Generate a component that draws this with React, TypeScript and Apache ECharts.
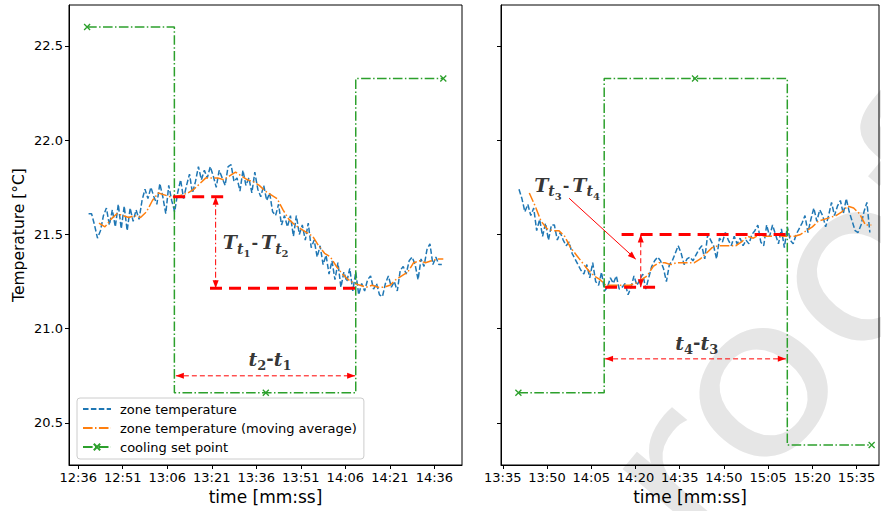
import React, { useEffect, useRef } from "react";
import * as echarts from "echarts";

// ---------- tick values (minutes since midnight) ----------
const leftTicks = [756, 771, 786, 801, 816, 831, 846, 861, 876];
const rightTicks = [815, 830, 845, 860, 875, 890, 905, 920, 935];
const yTicks = [20.5, 21.0, 21.5, 22.0, 22.5];

// ---------- left panel ----------
const leftZoneStart = 759.5; // minutes, 1-min step
const leftZone = [
  21.61, 21.61, 21.55, 21.48, 21.52, 21.6, 21.64, 21.55, 21.63, 21.54,
  21.66, 21.53, 21.65, 21.52, 21.64, 21.57, 21.63, 21.58, 21.68, 21.74,
  21.69, 21.75, 21.7, 21.66, 21.77, 21.7, 21.61, 21.76, 21.68, 21.62,
  21.72, 21.79, 21.69, 21.76, 21.82, 21.72, 21.78, 21.86, 21.79, 21.84,
  21.8, 21.86, 21.81, 21.75, 21.84, 21.8, 21.76, 21.86, 21.87, 21.78,
  21.8, 21.73, 21.84, 21.76, 21.8, 21.72, 21.83, 21.74, 21.7, 21.76,
  21.68, 21.72, 21.62, 21.6, 21.66, 21.55, 21.6, 21.54, 21.6, 21.49,
  21.6, 21.5, 21.55, 21.47, 21.56, 21.43, 21.47, 21.38, 21.44, 21.34,
  21.39, 21.29, 21.36, 21.26, 21.35, 21.22, 21.3, 21.25, 21.32, 21.2,
  21.3, 21.18, 21.24, 21.2, 21.26, 21.28, 21.21, 21.24, 21.18, 21.17,
  21.24, 21.28, 21.22, 21.25, 21.2, 21.31, 21.33, 21.29, 21.36, 21.38,
  21.34, 21.26, 21.37, 21.33, 21.42, 21.45, 21.34, 21.38, 21.34, 21.34,
];
const leftAvgStart = 763; // 2-min step
const leftAvg = [
  21.56, 21.54, 21.58, 21.61, 21.6, 21.59, 21.6, 21.59, 21.62, 21.68,
  21.72, 21.71, 21.7, 21.7, 21.71, 21.72, 21.74, 21.77, 21.8, 21.8,
  21.8, 21.79, 21.81, 21.83, 21.81, 21.79, 21.78, 21.76, 21.73, 21.71,
  21.69, 21.63, 21.58, 21.55, 21.53, 21.51, 21.49, 21.44, 21.4, 21.38,
  21.33, 21.29, 21.26, 21.24, 21.23, 21.22, 21.23, 21.22, 21.22, 21.23,
  21.26, 21.28, 21.3, 21.35, 21.36, 21.35, 21.36, 21.37, 21.37,
];
const leftSetTimes = [759, 788.4, 788.4, 819.2, 849.5, 849.5, 879];
const leftSetTemps = [22.6, 22.6, 20.66, 20.66, 20.66, 22.327, 22.327];
const leftSetMarked = [1, 0, 0, 1, 0, 0, 1];

// annotations (left)
const leftUpperTimes = [788, 806.5];
const leftUpperTemp = 21.7;
const leftLowerTimes = [800.4, 849.3];
const leftLowerTemp = 21.215;
const leftVArrowTime = 802.3;
const leftHArrowTimes = [788.9, 849.3];
const leftHArrowTemp = 20.75;
const leftTLabelPos = [815.8, 21.44];
const leftDtLabelPos = [820.6, 20.83];

// ---------- right panel ----------
const rightZoneStart = 820.5;
const rightZone = [
  21.74, 21.69, 21.62, 21.66, 21.6, 21.64, 21.52, 21.58, 21.49, 21.56,
  21.47, 21.55, 21.55, 21.47, 21.51, 21.47, 21.44, 21.46, 21.4, 21.37,
  21.34, 21.31, 21.29, 21.34, 21.27, 21.35, 21.25, 21.23, 21.3, 21.2,
  21.22, 21.27, 21.24, 21.28, 21.21, 21.22, 21.24, 21.18, 21.22, 21.28,
  21.23, 21.26, 21.29, 21.21, 21.27, 21.33, 21.36, 21.38, 21.36, 21.32,
  21.25, 21.34, 21.36, 21.4, 21.44, 21.4, 21.34, 21.37, 21.38, 21.36,
  21.39, 21.42, 21.44, 21.37, 21.5, 21.47, 21.44, 21.37, 21.48, 21.46,
  21.51, 21.47, 21.44, 21.49, 21.45, 21.48, 21.44, 21.47, 21.45, 21.5,
  21.52, 21.55, 21.46, 21.44, 21.55, 21.49, 21.55, 21.5, 21.45, 21.53,
  21.43, 21.54, 21.47, 21.45, 21.5, 21.53, 21.56, 21.6, 21.51, 21.58,
  21.64, 21.57, 21.63, 21.6, 21.54, 21.6, 21.67, 21.6, 21.65, 21.68,
  21.61, 21.69, 21.62, 21.57, 21.52, 21.51, 21.55, 21.62, 21.67, 21.51,
];
const rightAvgStart = 824;
const rightAvg = [
  21.72, 21.65, 21.57, 21.53, 21.52, 21.52, 21.49, 21.43, 21.39, 21.35,
  21.31, 21.28, 21.26, 21.23, 21.23, 21.23, 21.23, 21.23, 21.24, 21.26,
  21.28, 21.33, 21.35, 21.35, 21.34, 21.35, 21.35, 21.35, 21.35, 21.37,
  21.4, 21.43, 21.44, 21.44, 21.44, 21.44, 21.46, 21.49, 21.48, 21.5,
  21.49, 21.49, 21.5, 21.49, 21.49, 21.49, 21.5, 21.52, 21.54, 21.57,
  21.58, 21.59, 21.6, 21.62, 21.65, 21.64, 21.61, 21.55, 21.55,
];
const rightSetTimes = [820.3, 849.4, 849.4, 880.2, 911.5, 911.5, 940.1];
const rightSetTemps = [20.66, 20.66, 22.327, 22.327, 22.327, 20.383, 20.383];
const rightSetMarked = [1, 0, 0, 1, 0, 0, 1];

// annotations (right)
const rightLowerTimes = [849.7, 868.1];
const rightLowerTemp = 21.22;
const rightUpperTimes = [855.3, 911.3];
const rightUpperTemp = 21.5;
const rightVArrowTime = 861.8;
const rightHArrowTimes = [849.7, 911];
const rightHArrowTemp = 20.84;
const rightDiagFrom = [837.5, 21.692];
const rightDiagTo = [860.1, 21.369];
const rightTLabelPos = [836.8, 21.745];
const rightDtLabelPos = [880.8, 20.915];

// ---------- styles ----------
const BLUE = "#1f77b4";
const ORANGE = "#ff7f0e";
const GREEN = "#2ca02c";
const RED = "#ff0000";
const DASH = [5.5, 2.4];
const DASHDOT = [9.6, 2.4, 1.5, 2.4];
const X_SYMBOL = "path://M0,0L10,10M10,0L0,10";
const FONT = "DejaVu Sans";
const MATH = "DejaVu Serif";
const HEAD_W = 6;
const HEAD_H = 8;

const fmtTime = (v: number) => {
  const h = Math.floor(v / 60);
  const m = Math.round(v - h * 60);
  return `${h}:${m < 10 ? "0" + m : m}`;
};

const mathRich = {
  T: { fontSize: 19, fontFamily: MATH, fontWeight: "bold", fontStyle: "italic", color: "#000", verticalAlign: "bottom", padding: [0, 0, 7, 0] },
  s: { fontSize: 14, fontFamily: MATH, fontWeight: "bold", fontStyle: "italic", color: "#000", verticalAlign: "bottom", padding: [0, 0, 3, 0] },
  n: { fontSize: 10, fontFamily: MATH, fontWeight: "bold", color: "#000", verticalAlign: "bottom", padding: [0, 0, 0, 0] },
  m: { fontSize: 16, fontFamily: MATH, fontWeight: "bold", color: "#000", verticalAlign: "bottom", padding: [0, 3, 8, 1] },
  t: { fontSize: 19, fontFamily: MATH, fontWeight: "bold", fontStyle: "italic", color: "#000", verticalAlign: "bottom", padding: [0, 0, 4, 0] },
  k: { fontSize: 13, fontFamily: MATH, fontWeight: "bold", color: "#000", verticalAlign: "bottom", padding: [0, 0, 0, 0] },
  d: { fontSize: 18, fontFamily: MATH, fontWeight: "bold", color: "#000", verticalAlign: "bottom", padding: [0, 0, 5, 0] },
};

type Arrow = { idx: number; from: number[]; to: number[]; dash: any; heads: [boolean, boolean] };
const arrows: Arrow[] = [
  { idx: 0, from: [leftVArrowTime, leftUpperTemp], to: [leftVArrowTime, leftLowerTemp], dash: [6, 2.5, 1.5, 2.5], heads: [true, true] },
  { idx: 0, from: [leftHArrowTimes[0], leftHArrowTemp], to: [leftHArrowTimes[1], leftHArrowTemp], dash: [5, 3], heads: [true, true] },
  { idx: 1, from: [rightVArrowTime, rightLowerTemp], to: [rightVArrowTime, rightUpperTemp], dash: [5, 3], heads: [true, true] },
  { idx: 1, from: [rightHArrowTimes[0], rightHArrowTemp], to: [rightHArrowTimes[1], rightHArrowTemp], dash: [5, 3], heads: [true, true] },
  { idx: 1, from: rightDiagFrom, to: rightDiagTo, dash: "solid", heads: [false, true] },
];

function zoneSeries(name: string, idx: number, start: number, step: number, values: number[], color: string, dash: number[], z: number) {
  return {
    type: "line",
    name,
    xAxisIndex: idx,
    yAxisIndex: idx,
    data: values.map((v, i) => [start + i * step, v]),
    symbol: "none",
    z,
    lineStyle: { color, width: 1.5, type: dash },
    itemStyle: { color },
    silent: true,
  };
}

function setSeries(idx: number, times: number[], temps: number[], marked: number[]) {
  return {
    type: "line",
    name: "cooling set point",
    xAxisIndex: idx,
    yAxisIndex: idx,
    data: times.map((t, i) => (marked[i] ? [t, temps[i]] : { value: [t, temps[i]], symbol: "none" })),
    symbol: X_SYMBOL,
    symbolSize: 6,
    showSymbol: true,
    z: 4,
    lineStyle: { color: GREEN, width: 1.5, type: DASHDOT },
    itemStyle: { color: "rgba(0,0,0,0)", borderColor: GREEN, borderWidth: 1.3 },
    silent: true,
  };
}

function redLine(idx: number, times: number[], temp: number) {
  return {
    type: "line",
    xAxisIndex: idx,
    yAxisIndex: idx,
    data: times.map((t) => [t, temp]),
    symbol: "none",
    z: 5,
    itemStyle: { color: RED },
    lineStyle: { color: RED, width: 3, type: [12, 7] },
    silent: true,
  };
}

function labelSeries(idx: number, pos: number[], formatter: string) {
  return {
    type: "scatter",
    xAxisIndex: idx,
    yAxisIndex: idx,
    data: [pos],
    symbolSize: 1,
    z: 7,
    itemStyle: { color: "rgba(0,0,0,0)" },
    silent: true,
    label: { show: true, position: "inside", formatter, rich: mathRich },
  };
}

function arrowLineSeries(a: Arrow) {
  return {
    type: "line",
    xAxisIndex: a.idx,
    yAxisIndex: a.idx,
    data: [a.from, a.to],
    symbol: "none",
    z: 6,
    itemStyle: { color: RED },
    lineStyle: { color: RED, width: 1, type: a.dash },
    silent: true,
  };
}

function arrowHeadSeries(a: Arrow, chart: any) {
  const p0 = chart.convertToPixel({ gridIndex: a.idx }, a.from);
  const p1 = chart.convertToPixel({ gridIndex: a.idx }, a.to);
  const len = Math.hypot(p1[0] - p0[0], p1[1] - p0[1]) || 1;
  const dx = (p1[0] - p0[0]) / len;
  const dy = (p1[1] - p0[1]) / len;
  const heads: any[] = [];
  const mk = (pt: number[], ux: number, uy: number) => ({
    value: pt,
    symbolRotate: (Math.atan2(-ux, -uy) * 180) / Math.PI,
    symbolOffset: [-ux * HEAD_H / 2, -uy * HEAD_H / 2],
  });
  if (a.heads[0]) heads.push(mk(a.from, -dx, -dy));
  if (a.heads[1]) heads.push(mk(a.to, dx, dy));
  return {
    type: "scatter",
    xAxisIndex: a.idx,
    yAxisIndex: a.idx,
    data: heads,
    symbol: "triangle",
    symbolSize: [HEAD_W, HEAD_H],
    z: 6,
    itemStyle: { color: RED, opacity: 1 },
    silent: true,
  };
}

function xAxis(idx: number, min: number, max: number, ticks: number[]) {
  return {
    type: "value",
    gridIndex: idx,
    min,
    max,
    name: "time [mm:ss]",
    nameLocation: "middle",
    nameGap: 21,
    nameTextStyle: { fontSize: 17, fontFamily: FONT, color: "#000" },
    axisLine: { show: true, onZero: false, lineStyle: { color: "#000", width: 1 } },
    axisTick: { show: true, customValues: ticks, length: 4, lineStyle: { color: "#000" } },
    axisLabel: { customValues: ticks, formatter: fmtTime, fontSize: 13, fontFamily: FONT, color: "#000", margin: 6 },
    splitLine: { show: false },
  };
}

function yAxis(idx: number, showLabels: boolean) {
  return {
    type: "value",
    gridIndex: idx,
    min: 20.277,
    max: 22.717,
    name: showLabels ? "Temperature [°C]" : "",
    nameLocation: "middle",
    nameGap: 42,
    nameTextStyle: { fontSize: 15.5, fontFamily: FONT, color: "#000" },
    axisLine: { show: true, lineStyle: { color: "#000", width: 1 } },
    axisTick: { show: true, customValues: yTicks, length: 4, lineStyle: { color: "#000" } },
    axisLabel: { show: showLabels, customValues: yTicks, formatter: (v: number) => v.toFixed(1), fontSize: 13, fontFamily: FONT, color: "#000", margin: 6 },
    splitLine: { show: false },
  };
}

export default function App() {
  const ref = useRef<HTMLDivElement>(null);
  useEffect(() => {
    document.body.style.margin = "0";
    if (!ref.current) return;
    const chart = echarts.init(ref.current, undefined, { renderer: "svg" });
    const build = (withHeads: boolean): any => ({
      animation: false,
      backgroundColor: "#fff",
      graphic: [
        {
          type: "text",
          x: 747,
          y: 388,
          rotation: (50 * Math.PI) / 180,
          scaleX: 1.15,
          z: -10,
          silent: true,
          style: {
            text: "proof",
            fontSize: 215,
            fontFamily: FONT,
            fill: "#e6e6e6",
            textAlign: "center",
            textVerticalAlign: "middle",
          },
        },
      ],
      grid: [
        { left: 69, top: 5, width: 393, height: 460, show: true, borderColor: "#000", borderWidth: 1, backgroundColor: "rgba(0,0,0,0)" },
        { left: 501, top: 5, width: 378, height: 460, show: true, borderColor: "#000", borderWidth: 1, backgroundColor: "rgba(0,0,0,0)" },
      ],
      xAxis: [xAxis(0, 752.9, 885.3, leftTicks), xAxis(1, 814.4, 942.6, rightTicks)],
      yAxis: [yAxis(0, true), yAxis(1, false)],
      legend: {
        data: [
          { name: "zone temperature", itemStyle: { opacity: 0 } },
          { name: "zone temperature (moving average)", itemStyle: { opacity: 0 } },
          { name: "cooling set point" },
        ],
        orient: "vertical",
        left: 77,
        top: 398,
        itemWidth: 28,
        itemHeight: 8,
        itemGap: 5,
        padding: [4, 7, 5, 5],
        borderColor: "#cccccc",
        borderWidth: 1,
        borderRadius: 3,
        backgroundColor: "#fff",
        textStyle: { fontSize: 13, lineHeight: 14, fontFamily: FONT, color: "#000", padding: [0, 0, 0, 4] },
        selectedMode: false,
      },
      series: [
        zoneSeries("zone temperature", 0, leftZoneStart, 1, leftZone, BLUE, DASH, 2),
        zoneSeries("zone temperature (moving average)", 0, leftAvgStart, 2, leftAvg, ORANGE, DASHDOT, 3),
        setSeries(0, leftSetTimes, leftSetTemps, leftSetMarked),
        redLine(0, leftUpperTimes, leftUpperTemp),
        redLine(0, leftLowerTimes, leftLowerTemp),
        labelSeries(0, leftTLabelPos, "{T|T}{s|t}{n|1}{m|-}{T|T}{s|t}{n|2}"),
        labelSeries(0, leftDtLabelPos, "{t|t}{k|2}{d|-}{t|t}{k|1}"),

        zoneSeries("zone temperature", 1, rightZoneStart, 1, rightZone, BLUE, DASH, 2),
        zoneSeries("zone temperature (moving average)", 1, rightAvgStart, 2, rightAvg, ORANGE, DASHDOT, 3),
        setSeries(1, rightSetTimes, rightSetTemps, rightSetMarked),
        redLine(1, rightUpperTimes, rightUpperTemp),
        redLine(1, rightLowerTimes, rightLowerTemp),
        labelSeries(1, rightTLabelPos, "{T|T}{s|t}{n|3}{m|-}{T|T}{s|t}{n|4}"),
        labelSeries(1, rightDtLabelPos, "{t|t}{k|4}{d|-}{t|t}{k|3}"),

        ...arrows.map(arrowLineSeries),
        ...(withHeads ? arrows.map((a) => arrowHeadSeries(a, chart)) : []),
      ],
    });
    chart.setOption(build(false));
    chart.setOption(build(true), { notMerge: true });
    return () => chart.dispose();
  }, []);
  return <div ref={ref} style={{ width: 881, height: 511 }} />;
}
